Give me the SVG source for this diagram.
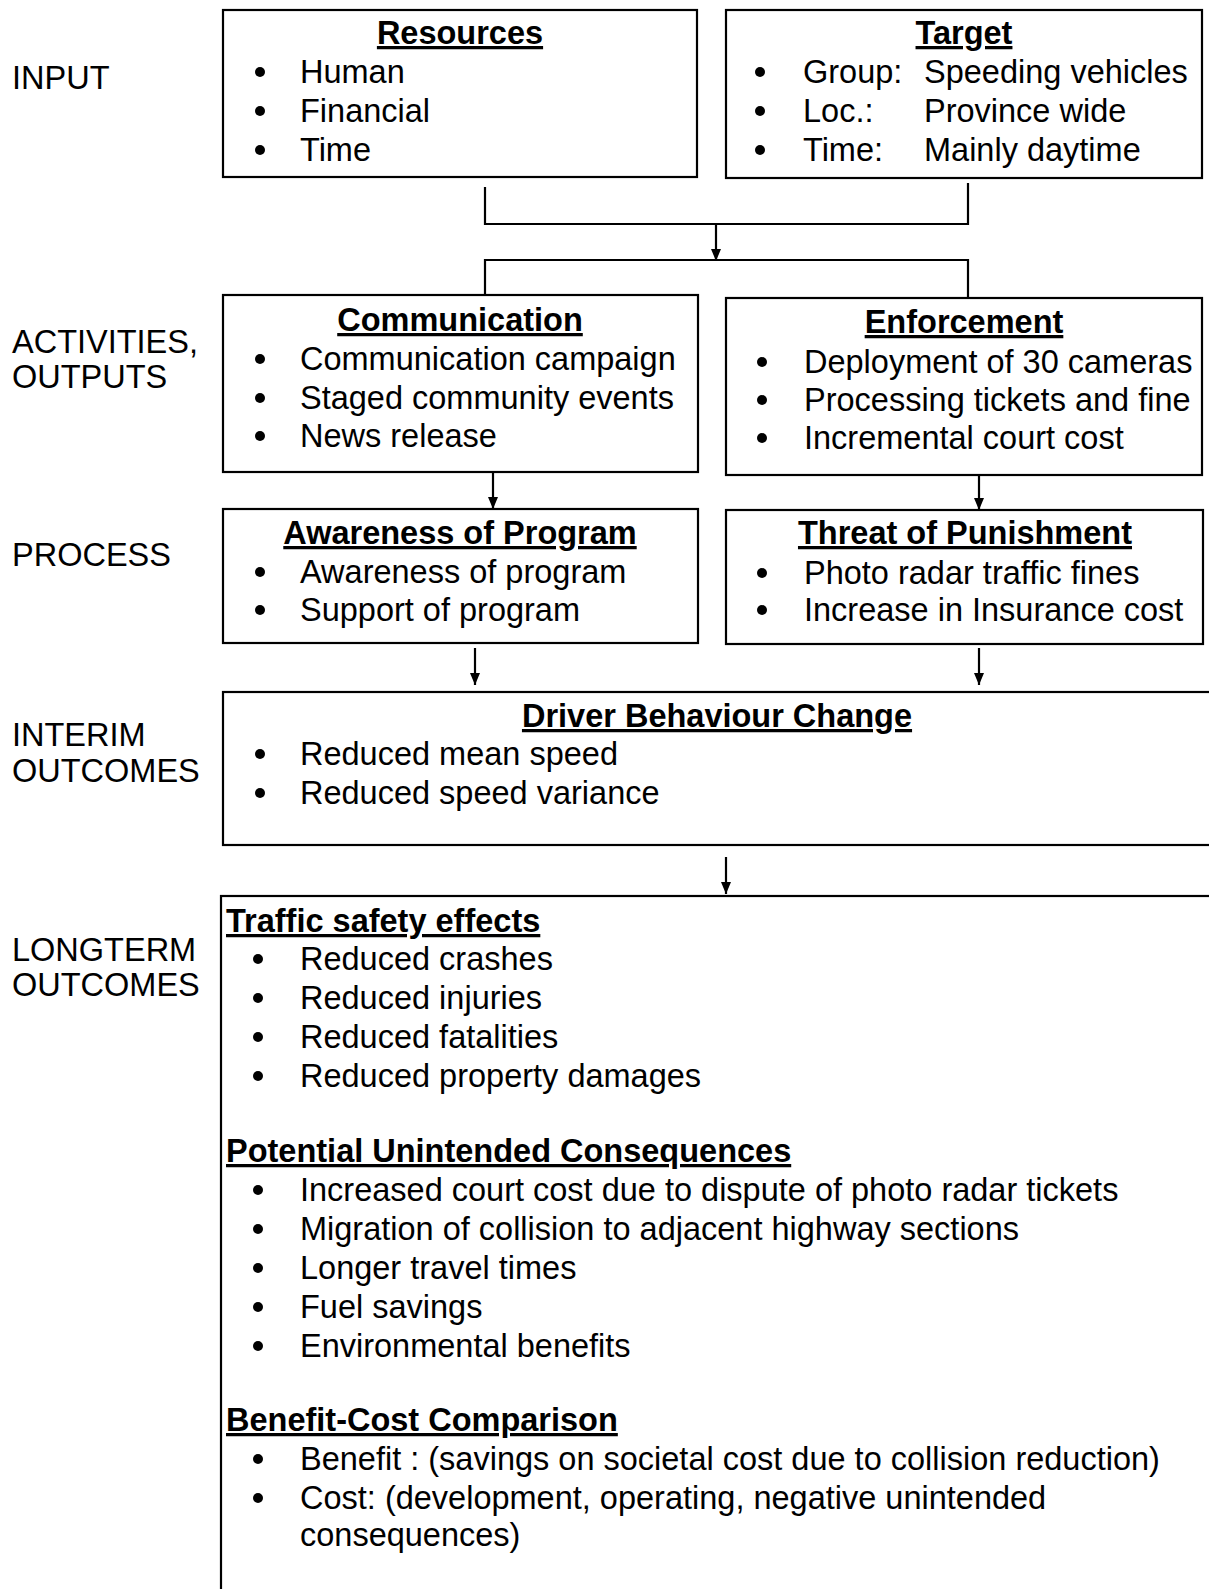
<svg xmlns="http://www.w3.org/2000/svg" width="1209" height="1589" viewBox="0 0 1209 1589">
<style>
text{font-family:"Liberation Sans",Arial,sans-serif;font-size:32.5px;fill:#000}
.t{font-weight:bold;text-decoration:underline;text-anchor:middle}
.h{font-weight:bold;text-decoration:underline}
.box{fill:#fff;stroke:#000;stroke-width:2.2}
.ln{fill:none;stroke:#000;stroke-width:2.2}
.b{fill:#000}
</style>
<defs>
<marker id="ah" viewBox="0 0 12 10" refX="12" refY="5" markerWidth="12" markerHeight="10" markerUnits="userSpaceOnUse" orient="auto">
<path d="M0,0 L12,5 L0,10 Z" fill="#000"/>
</marker>
<circle id="dot" r="5" class="b"/>
</defs>
<rect width="1209" height="1589" fill="#fff"/>

<g id="labels">
<text x="12" y="89">INPUT</text>
<text x="12" y="353">ACTIVITIES,</text>
<text x="12" y="388">OUTPUTS</text>
<text x="12" y="566">PROCESS</text>
<text x="12" y="746">INTERIM</text>
<text x="12" y="782">OUTCOMES</text>
<text x="12" y="961">LONGTERM</text>
<text x="12" y="996">OUTCOMES</text>
</g>

<g id="connectors">
<path class="ln" d="M485,187 V224 H968 V183"/>
<path class="ln" d="M716,224 V261" marker-end="url(#ah)"/>
<path class="ln" d="M485,296 V260 H968 V298"/>
<path class="ln" d="M493,472 V509" marker-end="url(#ah)"/>
<path class="ln" d="M979,475 V510" marker-end="url(#ah)"/>
<path class="ln" d="M475,648 V685" marker-end="url(#ah)"/>
<path class="ln" d="M979,648 V685" marker-end="url(#ah)"/>
<path class="ln" d="M726,857 V894" marker-end="url(#ah)"/>
</g>

<g id="resources">
<rect class="box" x="223" y="10" width="474" height="167"/>
<text class="t" x="460" y="44">Resources</text>
<use href="#dot" x="260" y="72"/><text x="300" y="83">Human</text>
<use href="#dot" x="260" y="111"/><text x="300" y="122">Financial</text>
<use href="#dot" x="260" y="150"/><text x="300" y="161">Time</text>
</g>

<g id="target">
<rect class="box" x="726" y="10" width="476" height="168"/>
<text class="t" x="964" y="44">Target</text>
<use href="#dot" x="760" y="72"/><text x="803" y="83">Group:</text><text x="924" y="83">Speeding vehicles</text>
<use href="#dot" x="760" y="111"/><text x="803" y="122">Loc.:</text><text x="924" y="122">Province wide</text>
<use href="#dot" x="760" y="150"/><text x="803" y="161">Time:</text><text x="924" y="161">Mainly daytime</text>
</g>

<g id="communication">
<rect class="box" x="223" y="295" width="475" height="177"/>
<text class="t" x="460" y="331">Communication</text>
<use href="#dot" x="260" y="359"/><text x="300" y="370">Communication campaign</text>
<use href="#dot" x="260" y="398"/><text x="300" y="409">Staged community events</text>
<use href="#dot" x="260" y="436"/><text x="300" y="447">News release</text>
</g>

<g id="enforcement">
<rect class="box" x="726" y="298" width="476" height="177"/>
<text class="t" x="964" y="333">Enforcement</text>
<use href="#dot" x="762" y="362"/><text x="804" y="373">Deployment of 30 cameras</text>
<use href="#dot" x="762" y="400"/><text x="804" y="411">Processing tickets and fine</text>
<use href="#dot" x="762" y="438"/><text x="804" y="449">Incremental court cost</text>
</g>

<g id="awareness">
<rect class="box" x="223" y="509" width="475" height="134"/>
<text class="t" x="460" y="544">Awareness of Program</text>
<use href="#dot" x="260" y="572"/><text x="300" y="583">Awareness of program</text>
<use href="#dot" x="260" y="610"/><text x="300" y="621">Support of program</text>
</g>

<g id="threat">
<rect class="box" x="726" y="510" width="477" height="134"/>
<text class="t" x="965" y="544">Threat of Punishment</text>
<use href="#dot" x="762" y="573"/><text x="804" y="584">Photo radar traffic fines</text>
<use href="#dot" x="762" y="610"/><text x="804" y="621">Increase in Insurance cost</text>
</g>

<g id="driver">
<rect class="box" x="223" y="692" width="990" height="153"/>
<text class="t" x="717" y="727">Driver Behaviour Change</text>
<use href="#dot" x="260" y="754"/><text x="300" y="765">Reduced mean speed</text>
<use href="#dot" x="260" y="793"/><text x="300" y="804">Reduced speed variance</text>
</g>

<g id="longterm">
<rect class="box" x="221" y="896" width="995" height="720"/>
<text class="h" x="226" y="932">Traffic safety effects</text>
<use href="#dot" x="258" y="959"/><text x="300" y="970">Reduced crashes</text>
<use href="#dot" x="258" y="998"/><text x="300" y="1009">Reduced injuries</text>
<use href="#dot" x="258" y="1037"/><text x="300" y="1048">Reduced fatalities</text>
<use href="#dot" x="258" y="1076"/><text x="300" y="1087">Reduced property damages</text>
<text class="h" x="226" y="1162">Potential Unintended Consequences</text>
<use href="#dot" x="258" y="1190"/><text x="300" y="1201">Increased court cost due to dispute of photo radar tickets</text>
<use href="#dot" x="258" y="1229"/><text x="300" y="1240">Migration of collision to adjacent highway sections</text>
<use href="#dot" x="258" y="1268"/><text x="300" y="1279">Longer travel times</text>
<use href="#dot" x="258" y="1307"/><text x="300" y="1318">Fuel savings</text>
<use href="#dot" x="258" y="1346"/><text x="300" y="1357">Environmental benefits</text>
<text class="h" x="226" y="1431">Benefit-Cost Comparison</text>
<use href="#dot" x="258" y="1459"/><text x="300" y="1470">Benefit : (savings on societal cost due to collision reduction)</text>
<use href="#dot" x="258" y="1498"/><text x="300" y="1509">Cost: (development, operating, negative unintended</text>
<text x="300" y="1546">consequences)</text>
</g>
</svg>
